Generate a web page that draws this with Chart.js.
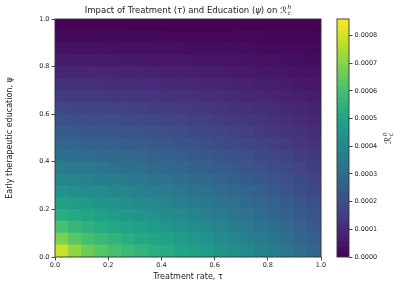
<!DOCTYPE html>
<html lang="en">
<head>
<meta charset="UTF-8" />
<title>Impact of Treatment and Education on Rc</title>
<script src="https://cdn.jsdelivr.net/npm/chart.js"></script>
<style>
  * { margin: 0; padding: 0; box-sizing: border-box; }
  body { background: #fff; width: 411px; height: 287px; overflow: hidden; }
  #wrap { position: relative; width: 411px; height: 287px; }
  #heatmap { position: absolute; left: 0; top: 0; }
  #colorbar { position: absolute; left: 330px; top: 0; }
</style>
</head>
<body>
<div id="wrap">
  <canvas id="heatmap" width="330" height="287"></canvas>
  <canvas id="colorbar" width="81" height="287"></canvas>
</div>

<script>
  // cell centres on both axes
  const tauCentres = [0.025, 0.075, 0.125, 0.175, 0.225, 0.275, 0.325, 0.375, 0.425, 0.475,
                      0.525, 0.575, 0.625, 0.675, 0.725, 0.775, 0.825, 0.875, 0.925, 0.975];
  const psiCentres = [0.025, 0.075, 0.125, 0.175, 0.225, 0.275, 0.325, 0.375, 0.425, 0.475,
                      0.525, 0.575, 0.625, 0.675, 0.725, 0.775, 0.825, 0.875, 0.925, 0.975];

  // R_c^h in units of 1e-6, one row per psi band (bottom row first), one column per tau band
  const rcRows = [
    [792, 718, 664, 630, 604, 581, 561, 542, 524, 505, 486, 466, 446, 424, 403, 380, 356, 332, 306, 279],
    [690, 636, 601, 577, 556, 538, 521, 504, 488, 471, 453, 435, 416, 396, 376, 355, 333, 310, 286, 261],
    [606, 573, 548, 529, 513, 498, 483, 468, 453, 437, 421, 404, 387, 369, 350, 330, 309, 288, 266, 243],
    [539, 518, 501, 486, 472, 459, 446, 433, 419, 405, 390, 374, 358, 342, 324, 306, 287, 267, 246, 225],
    [487, 471, 457, 445, 433, 422, 410, 398, 386, 372, 359, 345, 330, 315, 299, 282, 264, 246, 227, 207],
    [439, 427, 416, 406, 396, 386, 376, 365, 353, 341, 329, 316, 303, 289, 274, 259, 242, 226, 208, 190],
    [396, 386, 377, 369, 360, 351, 342, 331, 322, 311, 300, 288, 276, 263, 250, 236, 221, 206, 190, 173],
    [355, 348, 340, 333, 325, 317, 308, 300, 291, 281, 271, 261, 250, 238, 226, 213, 200, 186, 172, 157],
    [317, 311, 304, 298, 291, 284, 277, 269, 261, 253, 243, 234, 224, 214, 203, 191, 179, 167, 154, 141],
    [281, 275, 270, 264, 258, 252, 246, 239, 232, 224, 216, 208, 199, 190, 180, 170, 159, 148, 137, 125],
    [246, 241, 237, 231, 226, 221, 216, 210, 204, 197, 190, 183, 175, 167, 158, 149, 140, 130, 120, 110],
    [212, 208, 204, 200, 196, 192, 187, 182, 176, 171, 164, 158, 151, 144, 137, 129, 121, 113, 104,  95],
    [180, 176, 173, 170, 167, 163, 159, 154, 150, 145, 140, 134, 129, 123, 116, 110, 103,  96,  88,  81],
    [149, 146, 144, 141, 138, 135, 132, 128, 124, 120, 116, 111, 107, 102,  97,  91,  85,  79,  73,  67],
    [120, 118, 116, 114, 111, 109, 106, 103, 100,  97,  93,  90,  86,  82,  78,  73,  69,  64,  59,  54],
    [ 92,  91,  89,  88,  86,  84,  82,  79,  77,  75,  72,  69,  66,  63,  60,  56,  53,  49,  45,  42],
    [ 66,  65,  64,  63,  62,  60,  59,  57,  56,  54,  52,  50,  48,  45,  43,  41,  38,  36,  33,  30],
    [ 43,  42,  42,  41,  40,  39,  38,  37,  36,  35,  33,  32,  31,  29,  28,  26,  25,  23,  21,  19],
    [ 22,  22,  21,  21,  21,  20,  20,  19,  18,  18,  17,  17,  16,  15,  14,  14,  13,  12,  11,  10],
    [  5,   5,   5,   5,   5,   5,   5,   5,   4,   4,   4,   4,   4,   4,   3,   3,   3,   3,   3,   2]
  ];
  const rcUnit = 1e-6;

  // contour levels of the colour key, in units of 1e-5
  const colourLevels = [0, 2, 4, 6, 8, 10, 12, 14, 16, 18, 20, 22, 24, 26, 28, 30, 32, 34, 36, 38, 40, 42,
                        44, 46, 48, 50, 52, 54, 56, 58, 60, 62, 64, 66, 68, 70, 72, 74, 76, 78, 80, 82, 84, 86];
  const levelUnit = 1e-5;

  const axisTicks = [0, 0.2, 0.4, 0.6, 0.8, 1.0];
  const colourTicks = [0, 0.0001, 0.0002, 0.0003, 0.0004, 0.0005, 0.0006, 0.0007, 0.0008];

  const FONT = "'DejaVu Sans', 'Liberation Sans', sans-serif";
  const colourMin = colourLevels[0] * levelUnit;
  const colourMax = colourLevels[colourLevels.length - 1] * levelUnit;

  const viridisStops = [
    [68, 1, 84], [72, 36, 117], [65, 68, 135], [53, 95, 141], [42, 120, 142], [33, 145, 140],
    [34, 168, 132], [68, 191, 112], [122, 209, 81], [189, 223, 38], [253, 231, 37]
  ];

  function viridis(f) {
    f = Math.max(0, Math.min(1, f));
    const p = f * (viridisStops.length - 1);
    const i = Math.min(viridisStops.length - 2, Math.floor(p));
    const t = p - i;
    const a = viridisStops[i], b = viridisStops[i + 1];
    const c = a.map((v, k) => Math.round(v + (b[k] - v) * t));
    return 'rgb(' + c.join(',') + ')';
  }

  function colourFor(value) {
    return viridis((value - colourMin) / (colourMax - colourMin));
  }

  // draws R with subscript c and superscript h, returns width
  function drawRc(ctx, x, y, size, measureOnly) {
    ctx.font = 'italic ' + size + 'px ' + FONT;
    const wR = ctx.measureText('\u211B').width;
    const small = size * 0.7;
    ctx.font = 'italic ' + small + 'px ' + FONT;
    const wS = Math.max(ctx.measureText('h').width, ctx.measureText('c').width);
    if (!measureOnly) {
      ctx.font = 'italic ' + size + 'px ' + FONT;
      ctx.fillText('\u211B', x, y);
      ctx.font = 'italic ' + small + 'px ' + FONT;
      ctx.fillText('h', x + wR + 0.5, y - size * 0.42);
      ctx.fillText('c', x + wR + 0.5, y + size * 0.22);
    }
    return wR + 0.5 + wS;
  }

  const titleParts = [
    { text: 'Impact of Treatment (', italic: false },
    { text: '\u03C4', italic: true },
    { text: ') and Education (', italic: false },
    { text: '\u03C8', italic: true },
    { text: ') on ', italic: false }
  ];

  const titlePlugin = {
    id: 'mathTitle',
    afterDraw(chart) {
      const ctx = chart.ctx;
      const area = chart.chartArea;
      const size = 8.5;
      ctx.save();
      ctx.fillStyle = '#222';
      ctx.textBaseline = 'alphabetic';
      ctx.textAlign = 'left';
      let total = 0;
      titleParts.forEach(p => {
        ctx.font = (p.italic ? 'italic ' : '') + size + 'px ' + FONT;
        total += ctx.measureText(p.text).width;
      });
      total += drawRc(ctx, 0, 0, size, true);
      let x = (area.left + area.right) / 2 - total / 2;
      const y = 13;
      titleParts.forEach(p => {
        ctx.font = (p.italic ? 'italic ' : '') + size + 'px ' + FONT;
        ctx.fillText(p.text, x, y);
        x += ctx.measureText(p.text).width;
      });
      drawRc(ctx, x, y, size, false);
      ctx.restore();
    }
  };

  const framePlugin = {
    id: 'frame',
    afterDraw(chart) {
      const a = chart.chartArea;
      const ctx = chart.ctx;
      ctx.save();
      ctx.strokeStyle = '#333';
      ctx.lineWidth = 0.9;
      ctx.strokeRect(a.left, a.top, a.right - a.left, a.bottom - a.top);
      ctx.restore();
    }
  };

  const cbLabelPlugin = {
    id: 'cbLabel',
    afterDraw(chart) {
      const ctx = chart.ctx;
      const a = chart.chartArea;
      ctx.save();
      ctx.fillStyle = '#222';
      ctx.translate(58, (a.top + a.bottom) / 2);
      ctx.rotate(-Math.PI / 2);
      const w = drawRc(ctx, 0, 0, 9, true);
      drawRc(ctx, -w / 2, 3, 9, false);
      ctx.restore();
    }
  };

  const cellHalf = (tauCentres[1] - tauCentres[0]) / 2;

  const heatDatasets = psiCentres.map((psi, j) => ({
    data: tauCentres.map(tau => ({ x: tau, y: [psi - cellHalf, psi + cellHalf] })),
    backgroundColor: rcRows[j].map(v => colourFor(v * rcUnit)),
    borderWidth: 0,
    grouped: false,
    barPercentage: 1,
    categoryPercentage: 1,
    inflateAmount: 0.5
  }));

  const gridStyle = {
    color: 'rgba(190, 190, 190, 0.45)',
    lineWidth: 0.8,
    drawTicks: true,
    tickLength: 3.5,
    tickColor: '#333',
    tickWidth: 0.9,
    offset: false
  };

  new Chart(document.getElementById('heatmap'), {
    type: 'bar',
    data: { datasets: heatDatasets },
    options: {
      responsive: false,
      animation: false,
      devicePixelRatio: 1,
      layout: { padding: { left: 0, right: 9, top: 19, bottom: 0 } },
      plugins: { legend: { display: false }, tooltip: { enabled: false } },
      scales: {
        x: {
          type: 'linear', min: 0, max: 1, offset: false, z: 1,
          afterBuildTicks: s => { s.ticks = axisTicks.map(v => ({ value: v })); },
          afterFit: s => { s.height = 30; },
          ticks: { color: '#222', font: { family: FONT, size: 6.5 }, padding: 1, maxRotation: 0,
                   autoSkip: false, callback: v => Number(v).toFixed(1) },
          grid: gridStyle,
          border: { display: false, dash: [3, 2] },
          title: { display: true, text: 'Treatment rate, \u03C4', color: '#222',
                   font: { family: FONT, size: 8 }, padding: { top: 1, bottom: 5 } }
        },
        y: {
          type: 'linear', min: 0, max: 1, z: 1,
          afterBuildTicks: s => { s.ticks = axisTicks.map(v => ({ value: v })); },
          afterFit: s => { s.width = 55; },
          ticks: { color: '#222', font: { family: FONT, size: 6.5 }, padding: 2,
                   autoSkip: false, callback: v => Number(v).toFixed(1) },
          grid: gridStyle,
          border: { display: false, dash: [3, 2] },
          title: { display: true, text: 'Early therapeutic education, \u03C8', color: '#222',
                   font: { family: FONT, size: 8 }, padding: { top: 5, bottom: 0 } }
        }
      }
    },
    plugins: [titlePlugin, framePlugin]
  });

  // colour key
  const cbBands = colourLevels.slice(0, -1).map((lo, i) => ({
    x: 0.5, y: [lo * levelUnit, colourLevels[i + 1] * levelUnit]
  }));

  new Chart(document.getElementById('colorbar'), {
    type: 'bar',
    data: {
      datasets: [{
        data: cbBands,
        backgroundColor: cbBands.map(b => colourFor((b.y[0] + b.y[1]) / 2)),
        borderWidth: 0,
        grouped: false,
        barPercentage: 1,
        categoryPercentage: 1,
        inflateAmount: 0.5
      }]
    },
    options: {
      responsive: false,
      animation: false,
      devicePixelRatio: 1,
      layout: { padding: { left: 7, right: 0, top: 19, bottom: 30 } },
      plugins: { legend: { display: false }, tooltip: { enabled: false } },
      scales: {
        x: {
          type: 'linear', min: 0, max: 1, offset: false, display: false,
          afterBuildTicks: s => { s.ticks = [{ value: 0 }, { value: 1 }]; }
        },
        y: {
          type: 'linear', position: 'right', min: colourMin, max: colourMax,
          afterBuildTicks: s => { s.ticks = colourTicks.map(v => ({ value: v })); },
          afterFit: s => { s.width = 62; },
          ticks: { color: '#222', font: { family: FONT, size: 6.5 }, padding: 2,
                   callback: v => Number(v).toFixed(4) },
          grid: { drawOnChartArea: false, drawTicks: true, tickLength: 3.5, tickColor: '#333', tickWidth: 0.9 },
          border: { display: false }
        }
      }
    },
    plugins: [framePlugin, cbLabelPlugin]
  });
</script>
</body>
</html>
